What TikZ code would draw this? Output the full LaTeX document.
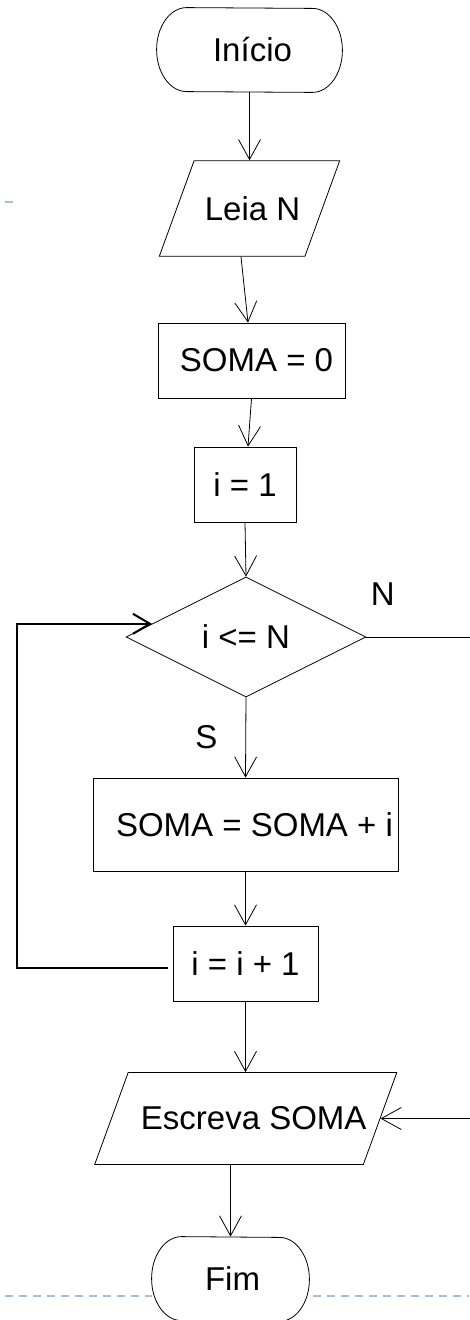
\documentclass[tikz,border=0pt]{standalone}
\usepackage{fontspec}
\setmainfont{Liberation Sans}
\usetikzlibrary{
  shapes.geometric,
  arrows.meta,
  positioning,
  calc
}
\definecolor{myblue}{RGB}{166,190,212}
\newcommand{\txtshift}[2]{\hspace*{#1}#2\hspace*{-#1}}
% outline of a start/end node: flat top and bottom, elliptic ends
\newcommand{\terminaloutline}[1]{
  \draw ([xshift=30pt]#1.north west)
    arc[start angle=90, end angle=270, x radius=30pt, y radius=42pt]
    -- ([xshift=-30pt]#1.south east)
    arc[start angle=-90, end angle=90, x radius=30pt, y radius=42pt]
    -- cycle;
}

\begin{document}
\begin{tikzpicture}[
  x=1pt, y=-1pt,
  thick,
  every node/.style={font=\fontsize{33}{40}\selectfont},
  terminal/.style={
    fill=white,
    rectangle,
    minimum width=#1,
    minimum height=84pt,
    inner sep=2pt
    },
  process/.style={
    draw,
    fill=white,
    rectangle,
    inner sep=2pt
    },
  io/.style={
    draw,
    fill=white,
    trapezium,
    trapezium left angle=70,
    trapezium right angle=110
    },
  decision/.style={
    draw,
    fill=white,
    diamond,
    minimum width=240pt,
    minimum height=120pt,
    inner sep=1pt
    },
  flow/.style={-{Straight Barb[length=20pt,width=22pt]}},
  loopflow/.style={line width=2pt,-{Straight Barb[length=17pt,width=20pt]}},
  lbl/.style={inner sep=0pt}
]
\useasboundingbox (0,0) rectangle (469,1320);

% slide marks
\draw[myblue, line width=2pt] (5,202) -- (13,202);
\draw[myblue, line width=2pt, dash pattern=on 8pt off 6pt] (5,1296) -- (469,1296);

\node[terminal=185pt] (inicio) at (249.5,50) {\txtshift{3pt}{Início}};
\node[io, inner xsep=7.7pt, inner ysep=35.7pt]
  (leia) at (249.5,208.5) {\txtshift{3pt}{Leia N}};
\node[process, minimum width=187pt, minimum height=75pt]
  (somazero) at (251.5,360.5) {\txtshift{5pt}{SOMA = 0}};
\node[process, minimum width=102pt, minimum height=75pt]
  (iinit) at (245,484.5) {i = 1};
\node[decision] (cond) at (246,637) {i <= N};
\node[process, minimum width=305pt, minimum height=93pt]
  (somai) at (245.5,824.5) {\txtshift{9pt}{SOMA = SOMA + i}};
\node[process, minimum width=145pt, minimum height=75pt]
  (incr) at (245.5,963.5) {i = i + 1};
\node[io, inner xsep=4.8pt, inner ysep=34.3pt]
  (escreva) at (245.75,1118.5) {\txtshift{8pt}{Escreva SOMA}};
\node[terminal=157pt] (fim) at (230.5,1279) {\txtshift{2pt}{Fim}};
\terminaloutline{inicio}
\terminaloutline{fim}

\node[lbl, above right=31pt and 4pt of cond.east] (nlabel) {N};

% connectors
\draw[flow] (inicio.south) -- (inicio.south |- leia.north);
\draw[flow] ([xshift=-8.5pt]leia.center |- leia.south) -- ([xshift=-3.5pt]somazero.north);
\draw[flow] (somazero.south) -- ([xshift=3pt]iinit.north);
\draw[flow] (iinit.south) -- (cond.north);
\draw[flow] (cond.south) -- node[lbl, left=28pt] (slabel) {S} (somai.north);
\draw[flow] (somai.south) -- (incr.north);
\draw[flow] (incr.south) -- (incr.south |- escreva.north);
\draw[flow] (escreva.south -| fim.north) -- (fim.north);
\draw[loopflow] ([xshift=-5pt,yshift=-4.5pt]incr.west) -- ++(-151,0) |- (cond.172);
\draw[flow] (cond.east) -- ++(130,0) |- (escreva.right side);
\end{tikzpicture}
\end{document}
